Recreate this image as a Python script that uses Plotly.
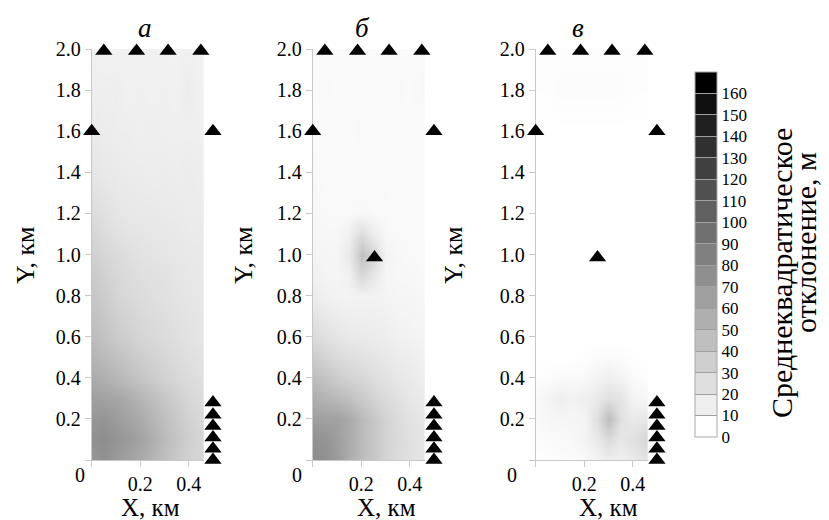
import plotly.graph_objects as go

# ---------------- data ----------------
x_km = [0.0, 0.05, 0.10, 0.15, 0.20, 0.25, 0.30, 0.35, 0.40, 0.45]
y_km = [0.0, 0.1, 0.2, 0.3, 0.4, 0.5, 0.6, 0.8, 0.9, 1.0, 1.1, 1.2, 1.4, 1.6, 1.8, 2.0]

std_a = [
    [70, 74, 68, 64, 58, 52, 45, 39, 33, 31],
    [74, 76, 72, 68, 62, 55, 47, 41, 35, 31],
    [70, 72, 67, 63, 58, 51, 45, 39, 33, 29],
    [65, 63, 61, 57, 51, 46, 40, 35, 30, 27],
    [58, 55, 50, 46, 41, 37, 33, 30, 27, 25],
    [52, 48, 44, 40, 36, 33, 30, 27, 25, 23],
    [47, 43, 38, 35, 31, 29, 27, 25, 23, 21],
    [41, 37, 32, 29, 27, 25, 24, 22, 21, 20],
    [38, 34, 30, 27, 25, 24, 23, 21, 20, 19],
    [35, 31, 28, 25, 23, 22, 21, 20, 19, 19],
    [31, 27, 24, 22, 21, 20, 20, 19, 18, 18],
    [27, 24, 21, 20, 19, 19, 18, 18, 17, 17],
    [21, 19, 18, 17, 17, 16, 17, 16, 17, 16],
    [18, 17, 16, 16, 15, 16, 15, 15, 15, 15],
    [16, 15, 16, 14, 15, 14, 15, 14, 17, 14],
    [14, 14, 13, 14, 13, 14, 13, 13, 14, 13],
]

std_b = [
    [76, 74, 67, 57, 47, 40, 32, 27, 24, 22],
    [74, 72, 66, 58, 48, 40, 33, 28, 24, 21],
    [66, 64, 64, 58, 48, 40, 32, 27, 23, 20],
    [56, 52, 48, 44, 38, 32, 28, 24, 20, 18],
    [46, 42, 37, 33, 30, 26, 23, 20, 18, 16],
    [37, 32, 28, 25, 23, 21, 19, 17, 16, 14],
    [28, 24, 21, 19, 18, 17, 16, 14, 13, 12],
    [17, 14, 13, 12, 13, 13, 12, 11, 11, 10],
    [14, 12, 11, 14, 30, 20, 11, 10, 10, 9],
    [12, 11, 11, 18, 44, 30, 12, 10, 9, 9],
    [11, 10, 10, 14, 26, 16, 10, 9, 9, 8],
    [10, 9, 9, 9, 10, 9, 9, 8, 8, 8],
    [9, 8, 8, 8, 8, 8, 8, 8, 8, 8],
    [8, 8, 8, 8, 9, 8, 8, 8, 8, 8],
    [8, 9, 8, 8, 8, 8, 8, 9, 8, 10],
    [8, 8, 8, 8, 8, 8, 8, 8, 8, 8],
]

std_c = [
    [6, 6, 7, 8, 9, 12, 16, 14, 18, 22],
    [7, 8, 9, 10, 12, 18, 28, 20, 24, 30],
    [8, 10, 11, 11, 12, 24, 46, 24, 18, 20],
    [8, 12, 15, 13, 15, 18, 24, 22, 12, 10],
    [6, 7, 8, 8, 9, 12, 15, 12, 8, 7],
    [5, 5, 5, 5, 6, 7, 8, 7, 6, 5],
    [4, 4, 4, 4, 5, 5, 5, 5, 4, 4],
    [4, 4, 4, 4, 4, 4, 4, 4, 4, 4],
    [4, 4, 4, 4, 4, 4, 4, 4, 4, 4],
    [4, 4, 4, 4, 4, 4, 4, 4, 4, 4],
    [4, 4, 4, 4, 4, 4, 4, 4, 4, 4],
    [4, 4, 4, 4, 4, 4, 4, 4, 4, 4],
    [4, 4, 4, 4, 4, 4, 4, 4, 4, 4],
    [5, 5, 5, 5, 5, 5, 5, 5, 5, 5],
    [6, 6, 7, 7, 7, 7, 7, 7, 6, 6],
    [6, 6, 6, 6, 6, 6, 6, 6, 6, 6],
]

# stations (triangles)
st_x = [0.05, 0.185, 0.315, 0.45, 0.0, 0.5, 0.5, 0.5, 0.5, 0.5, 0.5, 0.5]
st_y = [1.99, 1.99, 1.99, 1.99, 1.6, 1.6, 0.0, 0.055, 0.11, 0.165, 0.22, 0.28]
mid_x = [0.255]
mid_y = [0.985]

panel_titles = ["а", "б", "в"]
cb_ticks = [0, 10, 20, 30, 40, 50, 60, 70, 80, 90, 100, 110, 120, 130, 140, 150, 160]
y_ticks = [0.0, 0.2, 0.4, 0.6, 0.8, 1.0, 1.2, 1.4, 1.6, 1.8, 2.0]
x_ticks = [0.0, 0.2, 0.4]

# ---------------- layout helpers ----------------
OFF = 8                      # page body margin of the html page
W, H = 829 - OFF, 520 - OFF  # visible figure size
FONT = "Liberation Serif"
PXKM = 242.5                 # px per km horizontally
PYKM = 205.5                 # px per km vertically
XMAX = 0.463
x0_px = [91.7, 312.7, 535.7]  # screen px of x=0 in each panel
Y0_PX = 460                   # screen px of y=0


def fx(p):
    return (p - OFF) / W


def fy(p):
    return 1 - (p - OFF) / H


y_dom = [fy(Y0_PX), fy(Y0_PX - 2.0 * PYKM)]

gray_scale = [[0, "rgb(255,255,255)"], [1, "rgb(0,0,0)"]]
disc = []
n = 17
for k in range(n):
    g = round(255 * (1 - k / 16))
    c = f"rgb({g},{g},{g})"
    disc.append([k / n, c])
    disc.append([(k + 1) / n, c])

fig = go.Figure()
grids = [std_a, std_b, std_c]
for i in range(3):
    xa = "x" if i == 0 else f"x{i+1}"
    ya = "y" if i == 0 else f"y{i+1}"
    fig.add_trace(go.Heatmap(
        x=x_km, y=y_km, z=grids[i], zmin=5, zmax=165, colorscale=gray_scale,
        zsmooth="best", showscale=False, xaxis=xa, yaxis=ya, hoverinfo="skip"))

for i in range(3):
    xa = f"x{i+4}"
    ya = f"y{i+4}"
    sx = list(st_x) + (mid_x if i > 0 else [])
    sy = list(st_y) + (mid_y if i > 0 else [])
    fig.add_trace(go.Scatter(
        x=sx, y=sy, mode="markers", cliponaxis=False, xaxis=xa, yaxis=ya,
        marker=dict(symbol="triangle-up", size=15, color="black", line=dict(width=0)),
        showlegend=False, hoverinfo="skip"))

# dummy trace carrying the discrete colour bar
fig.add_trace(go.Scatter(
    x=[0.2, 0.2], y=[1.0, 1.0], mode="markers", xaxis="x3", yaxis="y3",
    marker=dict(size=1, opacity=0, color=[0, 170], cmin=0, cmax=170, colorscale=disc,
                showscale=True,
                colorbar=dict(thickness=22, thicknessmode="pixels", len=365, lenmode="pixels",
                              x=fx(695), xanchor="left", y=fy(254.5), yanchor="middle",
                              tickvals=cb_ticks, ticks="inside", ticklen=22,
                              tickcolor="#a0a0a0", tickwidth=1,
                              tickfont=dict(family=FONT, size=17, color="black"),
                              outlinewidth=1, outlinecolor="#aaaaaa", xpad=0, ypad=0)),
    showlegend=False, hoverinfo="skip"))

axis_style = dict(showline=True, linecolor="#c8c8c8", linewidth=1, ticks="outside",
                  tickcolor="#c8c8c8", ticklen=6, showgrid=False, zeroline=False,
                  tickfont=dict(family=FONT, size=20, color="black"), fixedrange=True)

lay = dict(width=W, height=H, margin=dict(l=0, r=0, t=0, b=0, autoexpand=False),
           paper_bgcolor="white", plot_bgcolor="rgba(0,0,0,0)", showlegend=False)
for i in range(3):
    xk = "xaxis" if i == 0 else f"xaxis{i+1}"
    yk = "yaxis" if i == 0 else f"yaxis{i+1}"
    lay[xk] = dict(axis_style, domain=[fx(x0_px[i]), fx(x0_px[i] + XMAX * PXKM)],
                   range=[0, XMAX], tickvals=x_ticks, ticktext=["", "0.2", "0.4"],
                   anchor="y" if i == 0 else f"y{i+1}")
    lay[yk] = dict(axis_style, domain=y_dom, range=[0, 2.0], tickvals=y_ticks,
                   ticktext=["" if v == 0 else f"{v:.1f}" for v in y_ticks],
                   anchor="x" if i == 0 else f"x{i+1}")
    # invisible overlay axes for the station markers (wider range so markers are not hidden)
    xr = [-0.05, 0.55]
    yr = [-0.05, 2.05]
    lay[f"xaxis{i+4}"] = dict(visible=False, fixedrange=True, range=xr, anchor=f"y{i+4}",
                              domain=[fx(x0_px[i] + xr[0] * PXKM), fx(x0_px[i] + xr[1] * PXKM)])
    lay[f"yaxis{i+4}"] = dict(visible=False, fixedrange=True, range=yr, anchor=f"x{i+4}",
                              domain=[fy(Y0_PX - yr[0] * PYKM), fy(Y0_PX - yr[1] * PYKM)])
fig.update_layout(**lay)


def ann(text, xpx, ypx, size, angle=0, italic=False):
    fig.add_annotation(text=f"<i>{text}</i>" if italic else text, x=fx(xpx), y=fy(ypx),
                       xref="paper", yref="paper", showarrow=False, textangle=angle,
                       xanchor="center", yanchor="middle",
                       font=dict(family=FONT, size=size, color="black"))


title_x = [145, 362, 578]
xlab_x = [150, 386, 608]
ylab_x = [25, 243, 453]
zero_x = [80, 297, 512]
for i in range(3):
    ann(panel_titles[i], title_x[i], 28, 27, italic=True)
    ann("X, км", xlab_x[i], 507, 25)
    ann("Y, км", ylab_x[i], 255, 26, angle=-90)
    ann("0", zero_x[i], 475, 20)

ann("Среднеквадратическое", 781, 273, 30, angle=-90)
ann("отклонение, м", 805, 243, 30, angle=-90)

fig.write_html("out.html")
